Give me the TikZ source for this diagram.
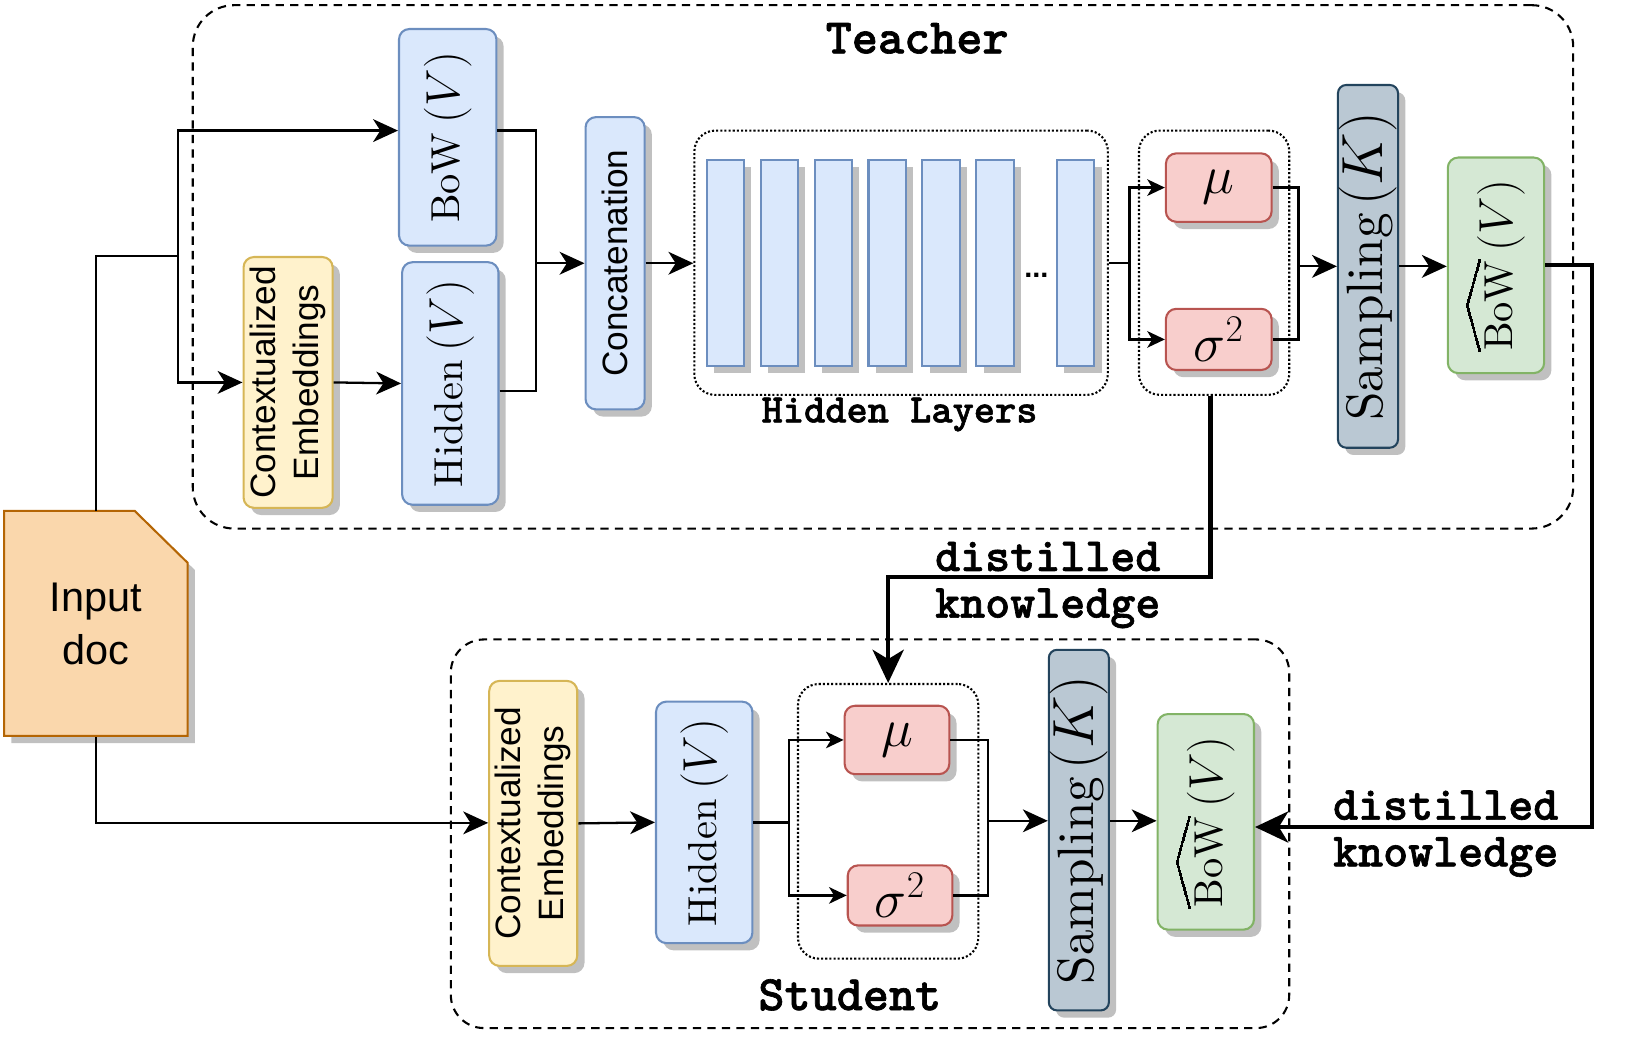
\RequirePackage{fix-cm}
\documentclass[tikz,border=0pt]{standalone}
\usepackage{amsmath}
\usepackage{fontspec}
\setsansfont{Liberation Sans}
\newfontfamily\courb{lmmonolt10-bold.otf}[FakeBold=1.3]
\newfontfamily\romten{lmroman10-regular.otf}
\usepackage{graphicx}
\usetikzlibrary{arrows.meta,shadows,calc}
\definecolor{blueF}{HTML}{DAE8FC}\definecolor{blueD}{HTML}{6C8EBF}
\definecolor{yelF}{HTML}{FFF2CC}\definecolor{yelD}{HTML}{D6B656}
\definecolor{redF}{HTML}{F8CECC}\definecolor{redD}{HTML}{B85450}
\definecolor{greyF}{HTML}{BAC8D3}\definecolor{greyD}{HTML}{23445D}
\definecolor{greenF}{HTML}{D5E8D4}\definecolor{greenD}{HTML}{82B366}
\definecolor{orF}{HTML}{FAD7AC}\definecolor{orD}{HTML}{B46504}
\definecolor{shadowc}{HTML}{C0C0C0}
\newcommand\hatpic{{\setlength{\unitlength}{1pt}\begin{picture}(43.6,6)\linethickness{1.2pt}\qbezier(0,0)(10.9,3)(21.8,6)\qbezier(21.8,6)(32.7,3)(43.6,0)\end{picture}}}
\newcommand\bigV{{\fontsize{23}{27}\selectfont$(V)$}}
\newcommand\lblV[1]{{\fontsize{19.5}{23}\selectfont\romten #1}\hspace{4.5pt}\bigV}
\newcommand\hatBoW{{\fontsize{19.5}{23}\selectfont\romten\makebox[0pt][l]{\raisebox{16pt}{\hatpic}}BoW}\hspace{4.5pt}\bigV}
\newcommand\sampK{{\fontsize{24.7}{28}\selectfont\romten Sampling}\hspace{3.5pt}{\fontsize{28}{32}\selectfont$(K)$}}
\tikzset{
 shd/.style={general shadow={fill=shadowc, shadow xshift=3.5pt, shadow yshift=-3.5pt}},
 box/.style={draw, line width=1pt, rounded corners=5pt, inner sep=0pt, shd},
 bluebox/.style={box, fill=blueF, draw=blueD},
 yelbox/.style={box, fill=yelF, draw=yelD},
 redbox/.style={box, fill=redF, draw=redD},
 greybox/.style={box, fill=greyF, draw=greyD},
 greenbox/.style={box, fill=greenF, draw=greenD},
 bar/.style={draw=blueD, fill=blueF, line width=1pt, inner sep=0pt, minimum width=18pt, minimum height=99.5pt, shd},
 conn/.style={line width=1.1pt},
 arr/.style={conn, -{Stealth[length=12pt,width=11pt,inset=3.5pt]}},
 sarr/.style={conn, -{Stealth[length=8.5pt,width=8pt,inset=2.4pt]}},
 karr/.style={line width=2.1pt, -{Stealth[length=16pt,width=15pt,inset=4.5pt]}},
 frame/.style={draw, line width=1pt, dash pattern=on 4pt off 3pt, inner sep=0pt},
 dotbox/.style={draw, line width=1pt, dash pattern=on 1pt off 1pt, rounded corners=10pt, inner sep=0pt},
 lab/.style={font=\fontsize{24}{28}\selectfont\courb, inner sep=0pt},
 dklab/.style={font=\fontsize{23}{27}\selectfont\courb, inner sep=0pt},
 serif/.style={font=\fontsize{19.5}{23}\selectfont},
 sans/.style={font=\fontsize{17}{21}\selectfont\sffamily},
 greek/.style={font=\fontsize{26}{30}\selectfont},
}
\begin{document}
\begin{tikzpicture}[x=0.5pt,y=-0.5pt]
\useasboundingbox (0,0) rectangle (1568,1013);
% frames
\node[frame, rounded corners=20pt, minimum width=666pt, minimum height=252.5pt] (teacher) at (852,257.5) {};
\node[frame, rounded corners=16pt, minimum width=404.5pt, minimum height=187.5pt] (student) at (839.5,804.5) {};
\node[lab] (tlab) at (885,37) {Teacher};
\node[lab] (slab) at (820,960) {Student};
% input doc
\draw[fill=orF, draw=orD, line width=1pt, shd] (4,493) -- (130,493) -- (181,543) -- (181,710) -- (4,710) -- cycle;
\node[inner sep=0pt, minimum width=88.5pt, minimum height=108.5pt, align=center, font=\fontsize{20}{26}\selectfont\sffamily] (doc) at (92.5,602) {Input\\doc};
% teacher nodes
\node[bluebox, minimum width=47pt, minimum height=104.5pt, serif] (bowT) at (432,132.5) {\rotatebox{90}{\lblV{BoW}}};
\node[bluebox, minimum width=46.5pt, minimum height=117pt, serif] (hidT) at (434.5,370) {\rotatebox{90}{\lblV{Hidden}}};
\node[yelbox, minimum width=43pt, minimum height=121pt, sans] (ceT) at (278,369) {\rotatebox{90}{\begin{tabular}{@{}c@{}}Contextualized\\Embeddings\end{tabular}}};
\node[bluebox, minimum width=28.5pt, minimum height=141pt, sans] (concat) at (593.5,254) {\rotatebox{90}{Concatenation}};
\node[dotbox, minimum width=199.5pt, minimum height=127.5pt] (hlbox) at (869.5,253.5) {};
\node[font=\fontsize{19.5}{22}\selectfont\courb, inner sep=0pt] (hll) at (868,400) {Hidden Layers};
\node[bar] (b1) at (700,253.5) {};
\node[bar] (b2) at (752,253.5) {};
\node[bar] (b3) at (804,253.5) {};
\node[bar] (b4) at (856,253.5) {};
\node[bar] (b5) at (908,253.5) {};
\node[bar] (b6) at (960,253.5) {};
\node[bar] (b7) at (1038,253.5) {};
\node[font=\fontsize{14}{16}\selectfont\sffamily\bfseries, inner sep=0pt, anchor=base] (dots) at (1000,268) {...};
\node[dotbox, minimum width=72.5pt, minimum height=127.5pt] (msT) at (1171.5,253.5) {};
\node[redbox, minimum width=51pt, minimum height=33pt, greek] (muT) at (1176,181) {$\mu$};
\node[redbox, minimum width=51pt, minimum height=29.5pt, greek] (sigT) at (1176,327.5) {$\sigma^2$};
\node[greybox, rounded corners=4pt, minimum width=29pt, minimum height=175pt] (sampT) at (1320,257) {\rotatebox{90}{\sampK}};
\node[greenbox, minimum width=46.5pt, minimum height=104pt, serif] (bowhT) at (1443.5,256) {\rotatebox{90}{\hatBoW}};
% student nodes
\node[yelbox, minimum width=42.5pt, minimum height=137.5pt, sans] (ceS) at (514.5,794.5) {\rotatebox{90}{\begin{tabular}{@{}c@{}}Contextualized\\Embeddings\end{tabular}}};
\node[bluebox, minimum width=46.5pt, minimum height=116.5pt, serif] (hidS) at (679.5,793.5) {\rotatebox{90}{\lblV{Hidden}}};
\node[dotbox, minimum width=87pt, minimum height=132.5pt] (msS) at (857,792.5) {};
\node[redbox, minimum width=50.5pt, minimum height=33pt, greek] (muS) at (865.5,714) {$\mu$};
\node[redbox, minimum width=50.5pt, minimum height=29pt, greek] (sigS) at (868.5,864) {$\sigma^2$};
\node[greybox, rounded corners=4pt, minimum width=29pt, minimum height=174pt] (sampS) at (1041,801) {\rotatebox{90}{\sampK}};
\node[greenbox, minimum width=46.5pt, minimum height=104pt, serif] (bowhS) at (1163.5,793) {\rotatebox{90}{\hatBoW}};
% coordinates
\coordinate (j1) at (92.5,247);
\coordinate (j2) at (172,247);
\coordinate (lvBow) at (0,126);
\coordinate (lvHid) at (0,377);
\coordinate (j3) at (517,254);
\coordinate (j4) at (1090,253.5);
\coordinate (j5) at (1253,257);
\coordinate (d1) at (1168,557);
\coordinate (c1) at (1536,256);
\coordinate (c2) at (1536,798);
\coordinate (j7) at (92.5,794);
\coordinate (j8) at (761,793.5);
\coordinate (j9) at (953,792);
% teacher connectors
\draw[conn] (doc.north) -- (j1) -- (j2);
\draw[arr] (j2) |- (bowT.west |- lvBow);
\draw[arr] (j2) |- (ceT.west);
\draw[arr] (ceT.east) -- (hidT.west);
\draw[conn] (bowT.east |- lvBow) -| (j3);
\draw[conn] (hidT.east |- lvHid) -| (j3);
\draw[arr] (j3) -- (concat.west |- j3);
\draw[arr] (concat.east |- j3) -- (hlbox.west |- j3);
\draw[conn] (hlbox.east |- j4) -- (j4);
\draw[sarr] (j4) |- (muT.west);
\draw[sarr] (j4) |- (sigT.west);
\draw[conn] (muT.east) -| (j5);
\draw[conn] (sigT.east) -| (j5);
\draw[arr] (j5) -- (sampT.west |- j5);
\draw[arr] (sampT.east |- j5) -- (bowhT.west |- j5);
% distilled knowledge
\draw[karr] (msT.south -| d1) -- (d1) -| (msS.north);
\draw[karr] (bowhT.east |- c1) -- (c1) -- (c2) -- (bowhS.east |- c2);
\node[dklab] (dk1a) at (1011,537) {distilled};
\node[dklab] (dk1b) at (1011,587) {knowledge};
\node[dklab] (dk2a) at (1395,777) {distilled};
\node[dklab] (dk2b) at (1395,827) {knowledge};
% student connectors
\draw[arr] (doc.south) -- (j7) -- (ceS.west |- j7);
\draw[arr] (ceS.east) -- (hidS.west);
\draw[conn] (hidS.east) -- (j8);
\draw[sarr] (j8) |- (muS.west);
\draw[sarr] (j8) |- (sigS.west);
\draw[conn] (muS.east) -| (j9);
\draw[conn] (sigS.east) -| (j9);
\draw[arr] (j9) -- (sampS.west |- j9);
\draw[arr] (sampS.east |- j9) -- (bowhS.west |- j9);
\end{tikzpicture}
\end{document}
